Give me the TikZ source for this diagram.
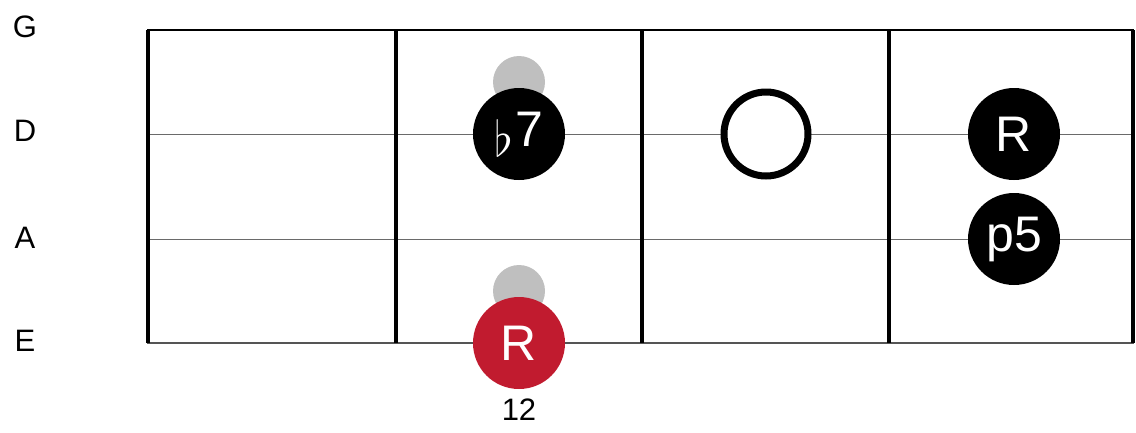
\documentclass[tikz,border=0pt]{standalone}
\usepackage{fontspec}
\usepackage{graphicx}
\setmainfont{Liberation Sans}
\definecolor{ghost}{HTML}{BFBFBF}
\definecolor{rootred}{HTML}{C11B2F}
\definecolor{strgray}{HTML}{6A6A6A}
\definecolor{lowgray}{HTML}{555555}
\newcommand{\bigflat}{\raisebox{-10pt}{\resizebox*{!}{37pt}{\raisebox{\depth}{$\flat$}}}}
\begin{document}
\begin{tikzpicture}[x=1pt,y=-1pt,
  fretline/.style={line width=3.6pt,black},
  strline/.style={line width=1pt,strgray},
  dotnote/.style={circle,fill=black,minimum size=92pt,inner sep=0pt,text=white,font=\fontsize{50}{50}\selectfont},
  rootnote/.style={dotnote,fill=rootred},
  ghostnote/.style={circle,fill=ghost,minimum size=52pt,inner sep=0pt},
  opennote/.style={circle,draw=black,line width=7pt,fill=white,minimum size=84pt,inner sep=0pt},
  strlabel/.style={font=\fontsize{31}{31}\selectfont,anchor=center}]
\useasboundingbox (0,0) rectangle (1136,432);
% string coordinates
\coordinate (gl) at (147,30);  \coordinate (gr) at (1134,30);
\coordinate (dl) at (147,134); \coordinate (dr) at (1134,134);
\coordinate (al) at (147,239); \coordinate (ar) at (1134,239);
\coordinate (el) at (147,343); \coordinate (er) at (1134,343);
% strings
\draw[line width=1.3pt,black] (gl) -- (gr);
\draw[strline] (dl) -- (dr);
\draw[strline] (al) -- (ar);
\draw[line width=2.6pt,lowgray] (el) -- (er);
% frets
\foreach \x/\n in {148/f0,396/f1,642/f2,889/f3,1133/f4}{
  \coordinate (\n t) at (\x,30); \coordinate (\n b) at (\x,343);
  \draw[fretline] (\n t) -- (\n b);
}
% string labels
\node[strlabel] (lg) at (25,27) {G};
\node[strlabel] (ld) at (25,131) {D};
\node[strlabel] (la) at (25,238) {A};
\node[strlabel] (le) at (25,341) {E};
% ghost notes
\node[ghostnote] (g1) at (519,82) {};
\node[ghostnote] (g2) at (519,291) {};
% notes
\node[dotnote] (b7) at (519,134) {\bigflat\kern3pt 7};
\node[opennote] (op) at (766,134) {};
\node[dotnote] (r2) at (1014,134) {R};
\node[dotnote] (p5) at (1014,239) {p5};
\node[rootnote] (r1) at (519,343) {R};
% fret number
\node[strlabel] (fn) at (519,410) {12};
\end{tikzpicture}
\end{document}
